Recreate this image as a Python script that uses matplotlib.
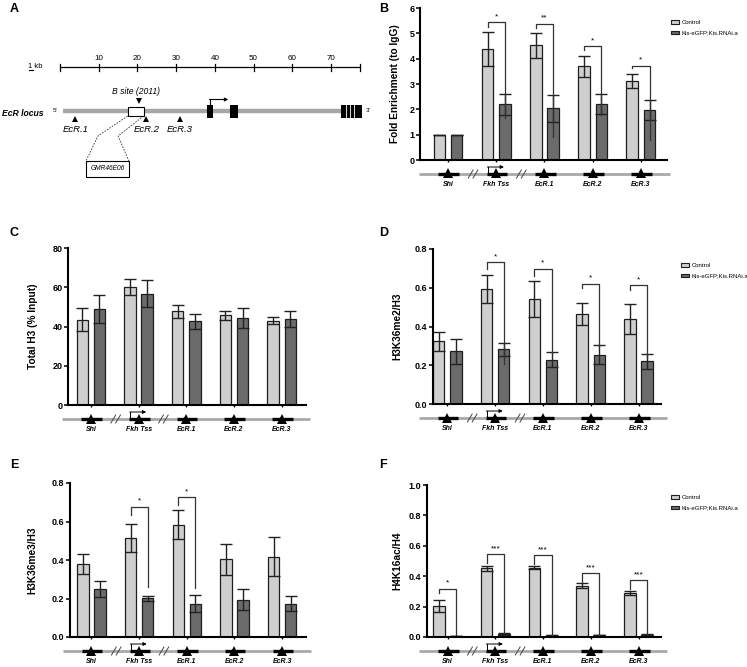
"""
Kis ChIP-qPCR figure: EcR locus map (A) + enrichment / histone-mark bars (B-F).
"""
import numpy as np
import matplotlib.pyplot as plt
from matplotlib.patches import Rectangle, Patch

plt.rcParams['font.family'] = ['Liberation Sans', 'DejaVu Sans']

W, H = 747, 667

SITES = ["Shi", "Fkh Tss", "EcR.1", "EcR.2", "EcR.3"]
LEGEND = ["Control", "Kis-eGFP;Kis.RNAi.a"]

# ---- B: fold enrichment (to IgG) ----
fe_ctrl = [1.0, 4.40, 4.52, 3.70, 3.13]
fe_ctrl_err = [0.0, 0.67, 0.48, 0.42, 0.27]
fe_kd = [1.0, 2.20, 2.04, 2.20, 1.97]
fe_kd_err = [0.0, 0.42, 0.53, 0.40, 0.39]
fe_sig_groups = [1, 2, 3, 4]
fe_sig_top = [5.43, 5.38, 4.49, 3.73]
fe_sig_left = [5.25, 5.20, 4.35, 3.63]
fe_sig_right = [1.65, 0.92, 1.78, 0.79]
fe_sig_labels = ["*", "**", "*", "*"]

# ---- C: total H3 (% input) ----
h3_ctrl = [43.5, 60.1, 47.7, 45.7, 43.0]
h3_ctrl_err = [5.8, 4.3, 3.2, 2.4, 1.7]
h3_kd = [48.9, 56.7, 42.6, 44.3, 43.8]
h3_kd_err = [7.0, 6.8, 4.0, 5.2, 4.0]

# ---- D: H3K36me2/H3 ----
me2_ctrl = [0.324, 0.594, 0.544, 0.465, 0.439]
me2_ctrl_err = [0.050, 0.072, 0.093, 0.056, 0.076]
me2_kd = [0.272, 0.282, 0.229, 0.255, 0.220]
me2_kd_err = [0.065, 0.032, 0.040, 0.050, 0.038]
me2_sig_groups = [1, 2, 3, 4]
me2_sig_top = [0.731, 0.699, 0.621, 0.614]
me2_sig_left = [0.697, 0.660, 0.600, 0.590]
me2_sig_right = [0.208, 0.263, 0.298, 0.237]
me2_sig_labels = ["*", "*", "*", "*"]

# ---- E: H3K36me3/H3 ----
me3_ctrl = [0.378, 0.514, 0.583, 0.403, 0.418]
me3_ctrl_err = [0.053, 0.075, 0.076, 0.080, 0.100]
me3_kd = [0.250, 0.201, 0.174, 0.193, 0.174]
me3_kd_err = [0.042, 0.013, 0.043, 0.054, 0.039]
me3_sig_groups = [1, 2]
me3_sig_top = [0.677, 0.727]
me3_sig_left = [0.635, 0.688]
me3_sig_right = [0.262, 0.253]
me3_sig_labels = ["*", "*"]

# ---- F: H4K16ac/H4 ----
ac_ctrl = [0.204, 0.453, 0.457, 0.338, 0.290]
ac_ctrl_err = [0.040, 0.016, 0.012, 0.016, 0.012]
ac_kd = [0.006, 0.020, 0.010, 0.013, 0.015]
ac_kd_err = [0.002, 0.004, 0.003, 0.003, 0.004]
ac_sig_groups = [0, 1, 2, 3, 4]
ac_sig_top = [0.319, 0.543, 0.541, 0.420, 0.374]
ac_sig_left = [0.292, 0.485, 0.480, 0.365, 0.318]
ac_sig_right = [0.012, 0.028, 0.015, 0.018, 0.022]
ac_sig_labels = ["*", "***", "***", "***", "***"]

# ---- A: EcR locus map (positions in kb) ----
ruler_ticks = [0, 10, 20, 30, 40, 50, 60, 70]
ruler_end = 77.5
locus_span = (0.8, 78.0)
bsite = (17.5, 21.6)
exons = [(38.0, 39.5), (44.0, 46.0), (72.5, 78.0)]
exon_gaps = [74.0, 75.0, 76.0]
tss_kb = 38.7
amplicons = {"EcR.1": 4.0, "EcR.2": 22.3, "EcR.3": 31.0}
gmr_box = (6.7, 17.8)

CTRL = "#cfcfcf"
KD = "#6b6b6b"
EDGE = "#1e1e1e"
OFF, BW = 0.18, 0.24

fig = plt.figure(figsize=(W / 100, H / 100), dpi=100)


def px_rect(x0, y0, x1, y1):
    return [x0 / W, 1 - y1 / H, (x1 - x0) / W, (y1 - y0) / H]


def track(box, xlim):
    x0, _, x1, y1 = box
    tr = fig.add_axes(px_rect(x0, y1, x1, y1 + 32))
    tr.set_xlim(xlim); tr.set_ylim(32, 0); tr.axis("off")
    tr.plot([-0.6, 4.6], [14, 14], color="#a9a9a9", lw=2.0,
            solid_capstyle="butt", clip_on=False)
    for i, s in enumerate(SITES):
        tr.plot([i - 0.2, i + 0.23], [14, 14], color="black", lw=2.4,
                solid_capstyle="butt")
        tr.plot(i, 13.5, marker="^", ms=6.5, color="black", mew=0)
        tr.text(i, 24.5, s, ha="center", va="center", fontsize=5,
                fontstyle="italic", fontweight="bold")
    for b in (0.52, 1.52):
        for dx in (-0.05, 0.05):
            tr.plot([b + dx - 0.05, b + dx + 0.05], [18, 10],
                    color="#444", lw=0.7)
    tr.plot([0.82, 0.82], [14, 7], color="black", lw=0.7)
    tr.annotate("", xy=(1.16, 7), xytext=(0.815, 7),
                arrowprops=dict(arrowstyle="-|>", lw=0.7, color="black",
                                mutation_scale=5, shrinkA=0, shrinkB=0))
    return tr


def bar_panel(box, xlim, ylim, yticks, fmt, ctrl, ctrl_err, kd, kd_err,
              ylabel, ylab_x, letter, sig=None, legend_xy=None):
    ax = fig.add_axes(px_rect(*box))
    x = np.arange(len(SITES))
    ek = dict(ecolor="#222", elinewidth=1.0, capsize=4.5, capthick=1.0)
    ax.bar(x - OFF, ctrl, BW, yerr=ctrl_err, color=CTRL, edgecolor=EDGE,
           lw=0.9, error_kw=ek, zorder=2)
    ax.bar(x + OFF, kd, BW, yerr=kd_err, color=KD, edgecolor=EDGE,
           lw=0.9, error_kw=ek, zorder=2)
    if sig is not None:
        for g, top, lft, rgt, lab in zip(*sig):
            xl, xr = g - OFF, g + OFF
            ax.plot([xl, xl, xr, xr], [lft, top, top, rgt], color="#333",
                    lw=0.9, zorder=3)
            ax.text(g, top + (ylim[1] - ylim[0]) * 0.012, lab, ha="center",
                    va="bottom", fontsize=6, zorder=3)
    ax.set_xlim(xlim); ax.set_ylim(ylim)
    ax.set_yticks(yticks)
    ax.set_yticklabels([fmt.format(t) for t in yticks], fontsize=6.5,
                       fontweight="bold")
    ax.set_xticks(x); ax.set_xticklabels([])
    ax.tick_params(axis="x", length=1.5, width=1.0)
    ax.tick_params(axis="y", length=3, width=1.1, pad=1)
    for s in ("top", "right"):
        ax.spines[s].set_visible(False)
    for s in ("left", "bottom"):
        ax.spines[s].set_linewidth(1.5)
    ax.set_ylabel(ylabel, fontsize=7.3, fontweight="bold")
    ax.yaxis.set_label_coords(ylab_x / W, 1 - (box[1] + box[3]) / 2 / H,
                              transform=fig.transFigure)
    if legend_xy is not None:
        handles = [Patch(fc=CTRL, ec=EDGE, lw=0.8), Patch(fc=KD, ec=EDGE, lw=0.8)]
        ax.legend(handles, LEGEND, loc="upper left",
                  bbox_to_anchor=(legend_xy[0] / W, 1 - legend_xy[1] / H),
                  bbox_transform=fig.transFigure, fontsize=4.3, frameon=False,
                  handlelength=1.3, handleheight=0.55, labelspacing=0.95,
                  handletextpad=0.45, borderpad=0)
    fig.text(letter[1] / W, 1 - letter[2] / H, letter[0], fontsize=9,
             fontweight="bold", va="center", ha="left")
    track(box, xlim)
    return ax


# ---- panel A ----
axA = fig.add_axes(px_rect(0, 0, 374, 210))
axA.set_xlim(-60 / 3.87, (374 - 60) / 3.87); axA.set_ylim(210, 0)
axA.axis("off")
axA.plot([0, ruler_end], [67, 67], color="black", lw=0.9)
for t in ruler_ticks + [ruler_end]:
    axA.plot([t, t], [64, 71], color="black", lw=0.9)
for t in ruler_ticks[1:]:
    axA.text(t, 59, str(t), ha="center", va="center", fontsize=5.8)
axA.text(-6.5, 66, "1 kb", ha="center", va="center", fontsize=5.5)
axA.plot([-8.0, -7.0], [70, 70], color="black", lw=0.8)
axA.plot(locus_span, [111, 111], color="#a6a6a6", lw=3.2,
         solid_capstyle="butt")
axA.text(-1.2, 111, "5'", ha="center", va="center", fontsize=4.5)
axA.text(79.6, 111, "3'", ha="center", va="center", fontsize=4.5)
axA.text(-15.0, 113, "EcR locus", ha="left", va="center", fontsize=6.2,
         fontweight="bold", fontstyle="italic")
axA.add_patch(Rectangle((bsite[0], 107), bsite[1] - bsite[0], 9,
                        fc="white", ec="black", lw=0.8, zorder=3))
axA.text(19.6, 92, "B site (2011)", ha="center", va="center", fontsize=6.2,
         fontstyle="italic")
axA.plot(20.3, 101, marker="v", ms=5, color="black", mew=0)
for a, b in exons:
    axA.add_patch(Rectangle((a, 105), b - a, 13, fc="black", ec="none",
                            zorder=3))
for g in exon_gaps:
    axA.plot([g, g], [105, 118], color="white", lw=0.6, zorder=4)
axA.plot([tss_kb, tss_kb], [105, 99.5], color="black", lw=0.8)
axA.annotate("", xy=(43.5, 99.5), xytext=(tss_kb - 0.1, 99.5),
             arrowprops=dict(arrowstyle="-|>", lw=0.8, color="black",
                             mutation_scale=5, shrinkA=0, shrinkB=0))
for name, kb in amplicons.items():
    axA.plot(kb, 118.5, marker="^", ms=4.5, color="black", mew=0)
    axA.text(kb, 129, name, ha="center", va="center", fontsize=6.8,
             fontstyle="italic")
axA.plot([bsite[0], 9.8, gmr_box[0]], [116, 136, 161], color="#333",
         lw=0.6, ls=(0, (2, 1.5)))
axA.plot([bsite[1], 15.0, gmr_box[1]], [116, 136, 161], color="#333",
         lw=0.6, ls=(0, (2, 1.5)))
axA.add_patch(Rectangle((gmr_box[0], 161), gmr_box[1] - gmr_box[0], 16,
                        fc="white", ec="black", lw=0.8))
axA.text(sum(gmr_box) / 2, 169, "GMR46E06", ha="center", va="center",
         fontsize=4.8, fontstyle="italic")
fig.text(10 / W, 1 - 9 / H, "A", fontsize=9, fontweight="bold", va="center")

# ---- panels B-F ----
bar_panel((420, 8, 667, 160), (-0.58, 4.54), (0, 6), range(0, 7), "{:d}",
          fe_ctrl, fe_ctrl_err, fe_kd, fe_kd_err,
          "Fold Enrichment (to IgG)", 400, ("B", 379, 9),
          sig=(fe_sig_groups, fe_sig_top, fe_sig_left, fe_sig_right,
               fe_sig_labels),
          legend_xy=(668, 17))

bar_panel((68, 248, 306, 405), (-0.48, 4.51), (0, 80), range(0, 81, 20),
          "{:d}", h3_ctrl, h3_ctrl_err, h3_kd, h3_kd_err,
          "Total H3 (% Input)", 38, ("C", 10, 233))

bar_panel((433, 249, 661, 404), (-0.3, 4.47), (0, 0.8),
          np.arange(0, 0.81, 0.2), "{:.1f}",
          me2_ctrl, me2_ctrl_err, me2_kd, me2_kd_err,
          "H3K36me2/H3", 402, ("D", 379, 233),
          sig=(me2_sig_groups, me2_sig_top, me2_sig_left, me2_sig_right,
               me2_sig_labels),
          legend_xy=(678, 260))

bar_panel((70, 483, 306, 637), (-0.45, 4.5), (0, 0.8),
          np.arange(0, 0.81, 0.2), "{:.1f}",
          me3_ctrl, me3_ctrl_err, me3_kd, me3_kd_err,
          "H3K36me3/H3", 37, ("E", 10, 465),
          sig=(me3_sig_groups, me3_sig_top, me3_sig_left, me3_sig_right,
               me3_sig_labels))

bar_panel((427, 485, 661, 637), (-0.43, 4.47), (0, 1.0),
          np.arange(0, 1.01, 0.2), "{:.1f}",
          ac_ctrl, ac_ctrl_err, ac_kd, ac_kd_err,
          "H4K16ac/H4", 402, ("F", 379, 465),
          sig=(ac_sig_groups, ac_sig_top, ac_sig_left, ac_sig_right,
               ac_sig_labels),
          legend_xy=(668, 492))

fig.savefig("out.png", dpi=100, facecolor="white")
